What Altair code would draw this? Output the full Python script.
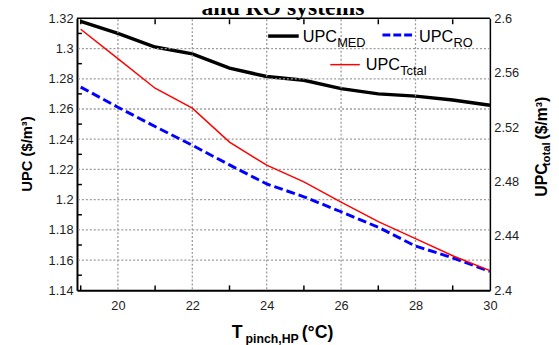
import altair as alt
import pandas as pd

# ---- data ----
t_pinch = [19, 20, 21, 22, 23, 24, 25, 26, 27, 28, 29, 30]
upc_med = [1.318, 1.310, 1.301, 1.2965, 1.287, 1.2815, 1.279, 1.2735, 1.270, 1.2685, 1.266, 1.2625]
upc_ro = [1.2745, 1.2612, 1.2484, 1.2360, 1.2230, 1.2104, 1.2019, 1.1920, 1.1817, 1.1693, 1.1615, 1.1525]
upc_total = [2.592, 2.5704, 2.5486, 2.534, 2.509, 2.492, 2.4797, 2.4648, 2.4505, 2.438, 2.4254, 2.4145]

x_labels = [20, 22, 24, 26, 28, 30]
x_minor = [19, 21, 23, 25, 27, 29]
left_labels = [1.14, 1.16, 1.18, 1.2, 1.22, 1.24, 1.26, 1.28, 1.3, 1.32]
left_minor = [1.15, 1.17, 1.19, 1.21, 1.23, 1.25, 1.27, 1.29, 1.31]
right_labels = [2.4, 2.44, 2.48, 2.52, 2.56, 2.6]

title_text = "and RO systems"
leg_main = "UPC"
leg_med_sub = "MED"
leg_ro_sub = "RO"
leg_tot_sub = "Tctal"
xt_main = "T"
xt_sub = "pinch,HP"
xt_unit = "(°C)"
yl_title = "UPC ($/m³)"
yr_main = "UPC"
yr_sub = "total"
yr_unit = "($/m³)"

df = pd.DataFrame({"t": t_pinch, "med": upc_med, "ro": upc_ro, "total": upc_total})
one = pd.DataFrame({"a": [0]})

W, H = 419, 276
FONT = "Liberation Sans"
GRID = "#9a9a9a"
LBL = "#1e1e1e"

xscale = alt.Scale(domain=[18.9, 30], nice=False, zero=False)
yl = alt.Scale(domain=[1.14, 1.32], nice=False, zero=False)
yr = alt.Scale(domain=[2.4, 2.6], nice=False, zero=False)


def x_axis():
    return alt.Axis(orient="bottom", values=x_labels, format="d", labelFontSize=13, labelFont=FONT,
                    labelColor=LBL, labelPadding=9, ticks=False, tickSize=0, domainColor="black",
                    domainWidth=2, grid=False, title=None, labelFlush=False, labelOverlap=False)


yl_axis = alt.Axis(orient="left", values=left_labels, format=".2~f", labelFontSize=13, labelFont=FONT,
                   labelColor=LBL, labelPadding=4, ticks=False, tickSize=0, domainColor="black",
                   domainWidth=2, grid=False, title=None, labelFlush=False, labelOverlap=False)
yr_axis = alt.Axis(orient="right", values=right_labels, format=".2~f", labelFontSize=13, labelFont=FONT,
                   labelColor=LBL, labelPadding=4, ticks=False, tickSize=0, domainColor="black",
                   domainWidth=1.5, grid=False, title=None, labelFlush=False, labelOverlap=False)

X = lambda: alt.X("t:Q", scale=xscale, axis=x_axis())

med = alt.Chart(df).mark_line(color="black", strokeWidth=3.5).encode(
    x=X(), y=alt.Y("med:Q", scale=yl, axis=yl_axis))

# dotted grid lines through the scales
grid_x = alt.Chart(pd.DataFrame({"t": x_labels[:-1]})).mark_rule(
    color=GRID, strokeWidth=1.3, strokeDash=[2, 2]).encode(x=X(), y=alt.value(H - 1), y2=alt.value(1))
grid_y = alt.Chart(pd.DataFrame({"v": left_labels[1:-1]})).mark_rule(
    color=GRID, strokeWidth=1.3, strokeDash=[2, 2]).encode(
    y=alt.Y("v:Q", scale=yl, axis=None), x=alt.value(1), x2=alt.value(W - 1))

ro = alt.Chart(df).mark_line(color="#0000ff", strokeWidth=3, strokeDash=[9, 4]).encode(
    x=X(), y=alt.Y("ro:Q", scale=yl, axis=None))
total = alt.Chart(df).mark_line(color="red", strokeWidth=1.5).encode(
    x=X(), y=alt.Y("total:Q", scale=yr, axis=yr_axis))

ticks_bottom = alt.Chart(pd.DataFrame({"t": x_minor})).mark_rule(color="black", strokeWidth=1.5).encode(
    x=X(), y=alt.value(H), y2=alt.value(H - 5))
ticks_top = alt.Chart(pd.DataFrame({"t": x_minor})).mark_rule(color="black", strokeWidth=1.5).encode(
    x=X(), y=alt.value(6), y2=alt.value(1))
ticks_left = alt.Chart(pd.DataFrame({"v": left_minor})).mark_rule(color="black", strokeWidth=1.5).encode(
    y=alt.Y("v:Q", scale=yl, axis=None), x=alt.value(0), x2=alt.value(5))
top_border = alt.Chart(one).mark_rule(color="black", strokeWidth=1.5).encode(
    x=alt.value(0), x2=alt.value(W), y=alt.value(0))


def txt(s, x, y, size, **kw):
    return alt.Chart(one).mark_text(text=s, fontSize=size, font=kw.pop("font", FONT), align=kw.pop("align", "left"),
                                    baseline="alphabetic", color=kw.pop("color", "black"), **kw).encode(
        x=alt.value(x), y=alt.value(y))


def seg(x1, x2, y, **kw):
    return alt.Chart(one).mark_rule(**kw).encode(x=alt.value(x1), x2=alt.value(x2), y=alt.value(y))


legend = [
    seg(194, 225, 18, color="black", strokeWidth=3.5),
    txt(leg_main, 229, 24, 16.5),
    txt(leg_med_sub, 264, 29, 13),
    seg(310, 342, 17, color="#0000ff", strokeWidth=3, strokeDash=[8, 3]),
    txt(leg_main, 347, 24, 16.5),
    txt(leg_ro_sub, 382, 29, 13),
    seg(257, 287, 47, color="red", strokeWidth=1.5),
    txt(leg_main, 293, 52, 16.5),
    txt(leg_tot_sub, 328, 57, 13),
]

titles = [
    txt(title_text, 209, -3, 24, font="Liberation Serif", fontWeight="bold", align="center"),
    txt(xt_main, 157, 324, 18, fontWeight="bold"),
    txt(xt_sub, 171, 329, 12.5, fontWeight="bold"),
    txt(xt_unit, 228, 324, 18, fontWeight="bold"),
    txt(yl_title, -46, 176, 15, fontWeight="bold", angle=270),
    txt(yr_main, 477, 181, 16, fontWeight="bold", angle=270),
    txt(yr_sub, 480, 150, 11.5, fontWeight="bold", angle=270),
    txt(yr_unit, 477, 123, 16, fontWeight="bold", angle=270),
]

chart = alt.layer(med, grid_x, grid_y, ro, total, ticks_bottom, ticks_top, ticks_left, top_border,
                  *legend, *titles).resolve_scale(y="independent").properties(
    width=W, height=H,
    padding={"left": 70, "top": 8, "right": 62, "bottom": 53},
    autosize=alt.AutoSizeParams(type="none"),
).configure_view(stroke=None).configure(background="white")

chart.save("out.html", embed_options={"renderer": "svg", "actions": False})
